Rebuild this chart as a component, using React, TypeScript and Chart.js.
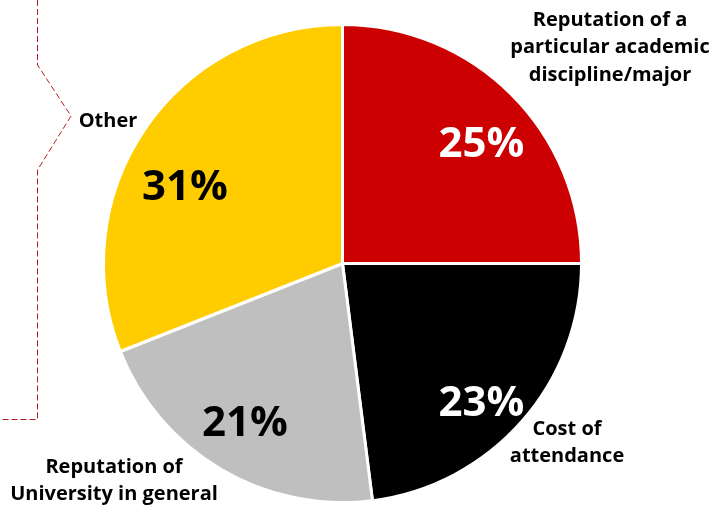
import React, { useEffect, useRef } from "react";
import { Chart, registerables } from "chart.js";

Chart.register(...registerables);

const categories = [
  "Reputation of a particular academic discipline/major",
  "Cost of attendance",
  "Reputation of University in general",
  "Other",
];
const shares = [25, 23, 21, 31];
const shareLabels = ["25%", "23%", "21%", "31%"];
const categoryLines = [
  ["Reputation of a", "particular academic", "discipline/major"],
  ["Cost of", "attendance"],
  ["Reputation of", "University in general"],
  ["Other"],
];

const sliceColors = ["#CC0000", "#000000", "#BFBFBF", "#FFCC00"];
const pctColors = ["#FFFFFF", "#FFFFFF", "#000000", "#000000"];
// label placement: angle nudge (deg) and radial fraction for percentages
const pctNudge = [
  { dAng: 4, frac: 0.77 },
  { dAng: 3.5, frac: 0.82 },
  { dAng: 1, frac: 0.78 },
  { dAng: -8, frac: 0.735 },
];
// category label anchors (center of first line)
const catAnchors = [
  { x: 610, y: 20 },
  { x: 567, y: 429 },
  { x: 114, y: 467 },
  { x: 108, y: 121 },
];
const FONT = "'Open Sans', 'Liberation Sans', sans-serif";

const labelPlugin = {
  id: "labelPlugin",
  afterDraw(chart: any) {
    const ctx = chart.ctx;
    const meta = chart.getDatasetMeta(0);
    ctx.save();
    // bracket
    ctx.strokeStyle = "#B01E23";
    ctx.lineWidth = 1;
    ctx.setLineDash([6, 3]);
    ctx.beginPath();
    ctx.moveTo(37.5, 0);
    ctx.lineTo(37.5, 65);
    ctx.lineTo(71, 116);
    ctx.lineTo(37.5, 170);
    ctx.lineTo(37.5, 419.5);
    ctx.lineTo(0, 419.5);
    ctx.stroke();
    ctx.setLineDash([]);

    ctx.textAlign = "center";
    ctx.textBaseline = "middle";
    meta.data.forEach((arc: any, i: number) => {
      const { x, y, startAngle, endAngle, outerRadius } = arc.getProps(
        ["x", "y", "startAngle", "endAngle", "outerRadius"],
        true
      );
      const mid = (startAngle + endAngle) / 2 + (pctNudge[i].dAng * Math.PI) / 180;
      const r = outerRadius * pctNudge[i].frac;
      ctx.fillStyle = pctColors[i];
      ctx.font = `bold 42px ${FONT}`;
      ctx.fillText(shareLabels[i], x + Math.cos(mid) * r, y + Math.sin(mid) * r + 2);

      ctx.fillStyle = "#000000";
      ctx.font = `bold 20px ${FONT}`;
      categoryLines[i].forEach((line, j) => {
        ctx.fillText(line, catAnchors[i].x, catAnchors[i].y + j * 27.5);
      });
    });
    ctx.restore();
  },
};

export default function App() {
  const ref = useRef<HTMLCanvasElement>(null);
  useEffect(() => {
    document.body.style.margin = "0";
    const chart = new Chart(ref.current!, {
      type: "pie",
      data: {
        labels: categories,
        datasets: [
          {
            data: shares,
            backgroundColor: sliceColors,
            borderColor: "#FFFFFF",
            borderWidth: 3,
            hoverBorderWidth: 3,
            hoverOffset: 0,
          },
        ],
      },
      options: {
        responsive: false,
        animation: false,
        layout: { padding: { left: 42, right: 81, top: 23, bottom: 2 } },
        plugins: { legend: { display: false }, tooltip: { enabled: false } },
        events: [],
      },
      plugins: [labelPlugin],
    });
    return () => chart.destroy();
  }, []);
  return (
    <div style={{ position: "fixed", left: 0, top: 0, width: 724, height: 506, background: "#fff" }}>
      <canvas ref={ref} width={724} height={506} />
    </div>
  );
}
